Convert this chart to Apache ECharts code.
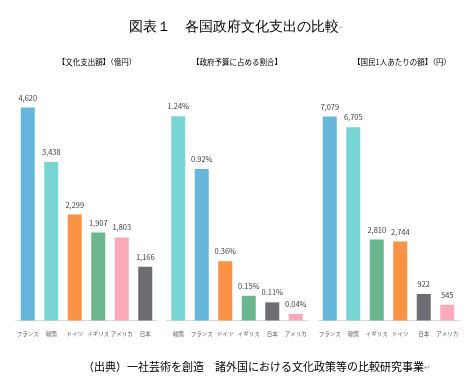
<!DOCTYPE html>
<html><head><meta charset="utf-8">
<script src="https://cdn.jsdelivr.net/npm/echarts@6/dist/echarts.min.js"></script>
<style>html,body{margin:0;padding:0;background:#fff}#c{width:465px;height:384px}</style>
</head><body><div id="c"></div>
<script>
const titleText = '図表１　各国政府文化支出の比較';
const sourceText = '（出典）一社芸術を創造　諸外国における文化政策等の比較研究事業';
const subTitles = ['【文化支出額】（億円）', '【政府予算に占める割合】', '【国民1人あたりの額】（円）'];

const categories1 = ['フランス', '韓国', 'ドイツ', 'イギリス', 'アメリカ', '日本'];
const values1 = [4620, 3438, 2299, 1907, 1803, 1166];

const categories2 = ['韓国', 'フランス', 'ドイツ', 'イギリス', '日本', 'アメリカ'];
const values2 = [1.24, 0.92, 0.36, 0.15, 0.11, 0.04];

const categories3 = ['フランス', '韓国', 'イギリス', 'ドイツ', '日本', 'アメリカ'];
const values3 = [7079, 6705, 2810, 2744, 922, 545];

const countryColors = {
  'フランス': '#67B6DB', '韓国': '#78D5D4', 'ドイツ': '#FC9245',
  'イギリス': '#6CB690', 'アメリカ': '#FCA9BA', '日本': '#6C6D73'
};

const FONT = '"Noto Sans CJK JP", "Noto Sans", sans-serif';
const chart = echarts.init(document.getElementById('c'), null, {renderer: 'canvas'});

const grids = [
  {left: 16, width: 141, top: 90, height: 230.5},
  {left: 166.5, width: 141, top: 90, height: 230.5},
  {left: 318, width: 141, top: 90, height: 230.5}
];
const cats = [categories1, categories2, categories3];
const vals = [values1, values2, values3];
const maxes = [5000, 1.4, 8000];
const fmts = [
  v => v.toLocaleString('en-US'),
  v => v.toFixed(2) + '%',
  v => v.toLocaleString('en-US')
];

const option = {
  animation: false,
  backgroundColor: '#fff',
  textStyle: {fontFamily: FONT},
  grid: grids,
  xAxis: cats.map((c, i) => ({
    type: 'category', gridIndex: i, data: c,
    axisLine: {lineStyle: {color: '#D9D9D9', width: 1}},
    axisTick: {show: false},
    axisLabel: {interval: 0, fontSize: 5.5, color: '#595959', margin: 11, fontFamily: FONT}
  })),
  yAxis: maxes.map((m, i) => ({
    type: 'value', gridIndex: i, min: 0, max: m, show: false,
    splitLine: {show: false}
  })),
  series: vals.map((v, i) => ({
    type: 'bar', xAxisIndex: i, yAxisIndex: i, barWidth: 14,
    data: v.map((val, j) => ({value: val, itemStyle: {color: countryColors[cats[i][j]]}})),
    label: {
      show: true, position: 'top', distance: 6, fontSize: 7.5, color: '#404040',
      fontFamily: FONT,
      formatter: p => fmts[i](p.value)
    }
  })),
  graphic: [
    {type: 'text', x: 236, y: 27, style: {
      text: titleText + '{m|↵}', fontSize: 13.5, fill: '#000', font: '13.5px ' + FONT,
      align: 'center', verticalAlign: 'middle',
      rich: {m: {fontSize: 5, fill: '#999', fontFamily: FONT}}
    }},
    {type: 'text', x: 97, y: 62, style: {text: subTitles[0], font: '7.5px ' + FONT, fill: '#000', align: 'center', verticalAlign: 'middle'}},
    {type: 'text', x: 237, y: 62, style: {text: subTitles[1], font: '7.5px ' + FONT, fill: '#000', align: 'center', verticalAlign: 'middle'}},
    {type: 'text', x: 402, y: 62, style: {text: subTitles[2], font: '7.5px ' + FONT, fill: '#000', align: 'center', verticalAlign: 'middle'}},
    {type: 'text', x: 83, y: 367, style: {
      text: sourceText + '{m|↵}', font: '11px ' + FONT, fill: '#000',
      align: 'left', verticalAlign: 'middle',
      rich: {m: {fontSize: 8, fill: '#999', fontFamily: FONT}}
    }}
  ]
};
chart.setOption(option);
</script>
</body></html>
